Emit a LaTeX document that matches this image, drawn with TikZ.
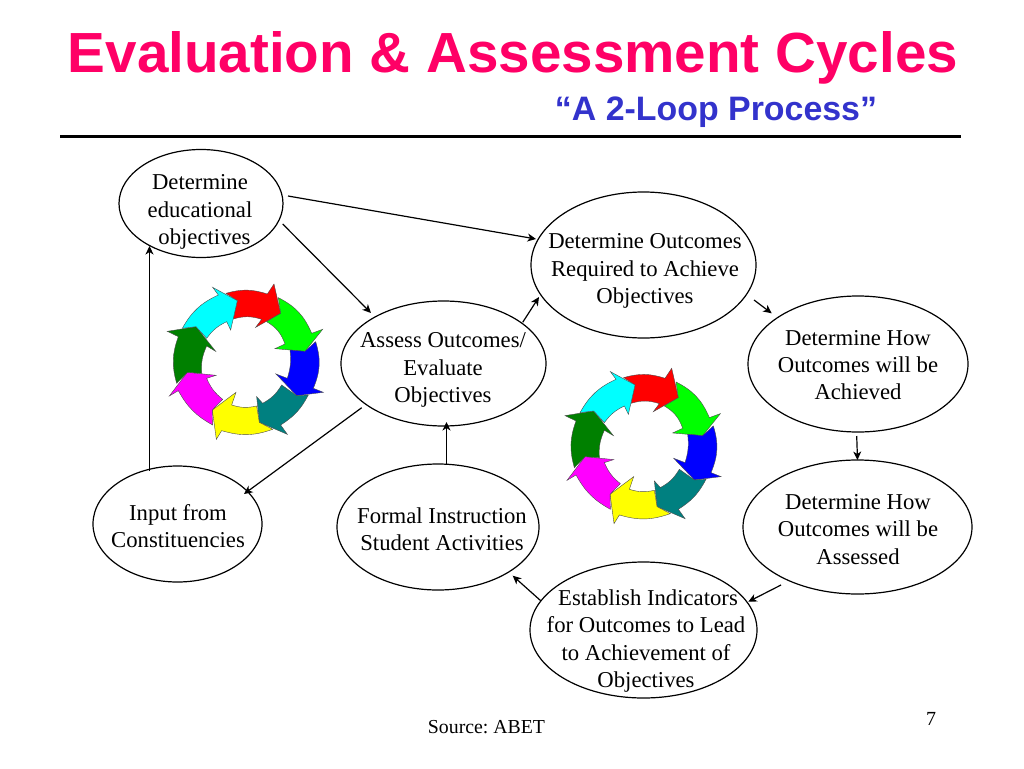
\documentclass[tikz,border=0pt]{standalone}
\usepackage{fontspec}
\setmainfont{Liberation Serif}
\newfontfamily\headfont{Liberation Sans}
\usetikzlibrary{shapes.geometric,arrows.meta,calc}
\definecolor{titlepink}{HTML}{FF0066}
\definecolor{subblue}{HTML}{3333CC}
\definecolor{ringred}{HTML}{FF0000}
\definecolor{ringlime}{HTML}{00FF00}
\definecolor{ringblue}{HTML}{0000FF}
\definecolor{ringteal}{HTML}{008080}
\definecolor{ringyellow}{HTML}{FFFF00}
\definecolor{ringmagenta}{HTML}{FF00FF}
\definecolor{ringgreen}{HTML}{008000}
\definecolor{ringcyan}{HTML}{00FFFF}
\tikzset{
  oval/.style={draw=black,line width=1.2pt,ellipse,inner sep=0pt,fill=white},
  lab/.style={align=center,font=\frenchspacing\fontsize{22.7}{27.4}\selectfont,inner sep=0pt},
  conn/.style={draw=black,line width=1.2pt,-{Stealth[length=8.5pt,width=8pt,inset=2.5pt]}},
  seg/.style={draw=black!70,line width=0.4pt,line join=miter},
}
\newcommand{\ringarrows}[2]{%
\begin{scope}[shift={(#1,#2)},x=0.3333pt,y=-0.3333pt]
 \path[seg,fill=ringred] (228,70) to[bend left=17] (352,72) -- (372,42) -- (392,130) -- (317,172) -- (335,148) to[bend right=17] (250,147) -- (262,92) -- cycle;
 \path[seg,fill=ringlime] (385,83) to[bend left=20] (485,190) -- (518,178) -- (465,244) -- (375,236) -- (405,222) to[bend right=20] (350,155) -- (392,130) -- cycle;
 \path[seg,fill=ringblue] (497,215) to[bend left=20] (490,355) -- (520,367) -- (440,377) -- (378,312) -- (412,325) to[bend right=12] (420,240) -- (465,244) -- cycle;
 \path[seg,fill=ringteal] (475,375) to[bend left=15] (392,465) -- (412,493) -- (328,457) -- (320,380) -- (338,400) to[bend right=15] (395,345) -- (440,377) -- cycle;
 \path[seg,fill=ringyellow] (368,478) to[bend left=18] (215,482) -- (199,508) -- (187,420) -- (258,367) -- (245,405) to[bend right=15] (320,408) -- (328,457) -- cycle;
 \path[seg,fill=ringmagenta] (188,465) to[bend left=16] (85,362) -- (58,378) -- (112,307) -- (198,316) -- (170,325) to[bend right=14] (218,388) -- (187,420) -- cycle;
 \path[seg,fill=ringgreen] (80,340) to[bend left=18] (85,200) -- (52,184) -- (138,170) -- (197,244) -- (170,228) to[bend right=14] (155,310) -- (112,307) -- cycle;
 \path[seg,fill=ringcyan] (97,175) to[bend left=18] (205,75) -- (188,52) -- (262,92) -- (242,180) -- (230,155) to[bend right=14] (170,205) -- (138,170) -- cycle;
\end{scope}}
\begin{document}
\begin{tikzpicture}[x=1pt,y=-1pt]
\useasboundingbox (0,0) rectangle (1024,768);
\node[anchor=base,inner sep=0pt,text=titlepink,font=\headfont\bfseries\fontsize{56.6}{60}\selectfont] (title) at (513,72) {Evaluation \& Assessment Cycles};
\node[anchor=base,inner sep=0pt,text=subblue,font=\headfont\bfseries\fontsize{33.9}{36}\selectfont] (sub) at (716,120) {“A 2-Loop Process”};
\coordinate (ruleL) at (60,136);
\coordinate (ruleR) at (961,136);
\draw[line width=3pt] (ruleL) -- (ruleR);

\ringarrows{150}{270}
\ringarrows{547.7}{354.3}

\node[oval,minimum width=164pt,minimum height=108pt] (A) at (201,203.5) {};
\node[oval,minimum width=225pt,minimum height=146pt] (B) at (643.5,265) {};
\node[oval,minimum width=205pt,minimum height=125pt] (C) at (443.5,363.5) {};
\node[oval,minimum width=220pt,minimum height=136pt] (D) at (858,364) {};
\node[oval,minimum width=229pt,minimum height=134pt] (E) at (857.5,527) {};
\node[oval,minimum width=227pt,minimum height=136pt] (F) at (643.5,630) {};
\node[oval,minimum width=202pt,minimum height=126pt] (G) at (438,527) {};
\node[oval,minimum width=169pt,minimum height=116pt] (H) at (177.5,524) {};

\node[lab] (At) at (200,212) {Determine\\educational\\\hspace{9pt}objectives};
\node[lab] (Bt) at (645,271) {Determine Outcomes\\Required to Achieve\\Objectives};
\node[lab] (Ct) at (443,370) {Assess Outcomes/\\Evaluate\\Objectives};
\node[lab] (Dt) at (858,365) {Determine How\\Outcomes will be\\Achieved};
\node[lab] (Et) at (858,529.5) {Determine How\\Outcomes will be\\Assessed};
\node[lab] (Ft) at (646,641) {\hspace{4pt}Establish Indicators\\for Outcomes to Lead\\to Achievement of\\Objectives};
\node[lab] (Gt) at (442,529) {Formal Instruction\\Student Activities};
\node[lab] (Ht) at (178,526) {Input from\\Constituencies};

\draw[conn] ($(A.center)+(87,-7.5)$) -- ($(B.center)+(-107.5,-26)$);
\draw[conn] ($(A.center)+(81.7,20.5)$) -- ($(C.center)+(-72.5,-50.5)$);
\draw[conn] ($(C.center)+(79.2,-41.2)$) -- ($(B.center)+(-104.5,32)$);
\draw[conn] ($(C.center)+(-81.8,44.2)$) -- ($(H.center)+(66.5,-30)$);
\draw[conn] ($(H.center)+(-28,-53)$) -- ($(A.center)+(-51.5,42.5)$);
\draw[conn] ($(G.center)+(8.5,-63.5)$) -- ($(C.center)+(3,58.5)$);
\draw[conn] ($(F.center)+(-102.8,-29.3)$) -- ($(G.center)+(74.7,48.7)$);
\draw[conn] ($(E.center)+(-76.5,58)$) -- ($(F.center)+(104.8,-28.3)$);
\draw[conn] ($(D.center)+(-1.3,72)$) -- ($(E.center)+(0,-67)$);
\draw[conn] ($(B.center)+(110.5,35)$) -- ($(D.center)+(-86.3,-50.7)$);

\node[inner sep=0pt,anchor=base,font=\frenchspacing\fontsize{19.8}{22}\selectfont] (src) at (486.5,733) {Source: ABET};
\node[inner sep=0pt,anchor=base,font=\fontsize{20}{22}\selectfont] (num) at (931,725) {7};
\end{tikzpicture}
\end{document}
